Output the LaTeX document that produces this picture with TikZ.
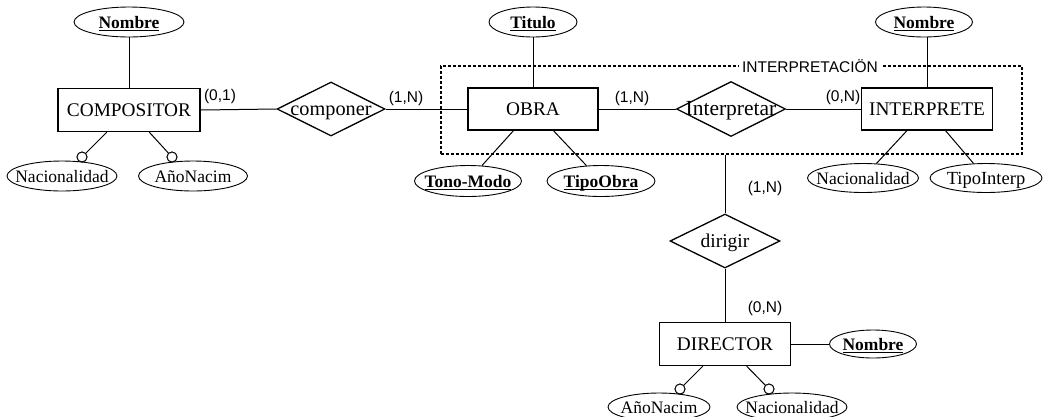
\documentclass[tikz,border=0pt]{standalone}
\usepackage{fontspec}
\setmainfont{Liberation Serif}
\newfontfamily\cardf{Liberation Sans}
\usetikzlibrary{shapes.geometric}
\newcommand{\zw}[1]{\makebox[0pt]{#1}}
\newcommand{\kul}[1]{\setbox0=\hbox{#1}\makebox[0pt]{\rlap{\copy0}\raisebox{-3.4pt}{\rule{\wd0}{1.3pt}}}}
\tikzset{
  entity/.style={rectangle, draw, line width=1.3pt, minimum width=131, minimum height=43, inner sep=0,
                 font=\fontsize{19.3}{21}\selectfont},
  rel/.style={diamond, draw, line width=1.3pt, minimum width=108, minimum height=54, inner sep=0,
              text height=13, text depth=0, font=\fontsize{20.3}{22}\selectfont},
  attr/.style={ellipse, draw, line width=0.9pt, minimum width=110, minimum height=30, inner sep=0,
               text height=12, text depth=0, font=\fontsize{17.5}{19}\selectfont},
  keyattr/.style={attr, font=\fontsize{17.5}{19}\selectfont\bfseries},
  conn/.style={line width=1pt},
  opt/.style={circle, draw, line width=0.9pt, minimum size=10, inner sep=0, fill=white},
  card/.style={font=\cardf\fontsize{15.5}{17}\selectfont, inner sep=0},
  aggbox/.style={rectangle, draw, line width=1.1pt, dash pattern=on 3pt off 2pt, inner sep=0}
}
\begin{document}
\begin{tikzpicture}[x=1pt,y=-1pt]
\fill[white] (0,0) rectangle (1043,416);
\useasboundingbox (0,0) rectangle (1043,416);

% aggregation box
\node[aggbox, minimum width=581, minimum height=88] (agg) at (731.5,110) {};
\node[card, fill=white, inner xsep=3pt, inner ysep=1pt] (agglabel) at (810,66) {INTERPRETACIÖN};

% entities
\node[entity, minimum width=142] (comp) at (129,110) {COMPOSITOR};
\node[entity, minimum width=130, minimum height=42] (obra) at (533,109) {OBRA};
\node[entity, minimum height=42] (interp) at (927,109) {INTERPRETE};
\node[entity] (dir) at (725,344) {DIRECTOR};

% relationships
\node[rel] (compon) at (331,109) {\zw{componer}};
\node[rel, minimum width=109, minimum height=55, font=\fontsize{21.5}{23}\selectfont] (interpr) at (731,109) {\zw{Interpretar}};
\node[rel, minimum width=110, font=\fontsize{19.5}{21}\selectfont] (dirig) at (725,241) {\zw{dirigir}};

% attributes
\node[keyattr] (nom1) at (129,22) {\kul{Nombre}};
\node[keyattr, minimum width=88] (titulo) at (533,22) {\kul{Titulo}};
\node[keyattr, minimum width=97] (nom2) at (924,22) {\kul{Nombre}};
\node[attr] (nac1) at (62,176) {\zw{Nacionalidad}};
\node[attr, minimum width=109] (ano1) at (193,176) {\zw{AñoNacim}};
\node[keyattr, minimum width=107, minimum height=31] (tono) at (468,181) {\kul{Tono-Modo}};
\node[keyattr, minimum width=108, minimum height=31] (tipo) at (601,181) {\kul{TipoObra}};
\node[attr, minimum width=111, minimum height=29] (nac2) at (863,178) {\zw{Nacionalidad}};
\node[attr, minimum width=112, minimum height=29, font=\fontsize{18.5}{20}\selectfont] (tipoi) at (986,178) {\zw{TipoInterp}};
\node[keyattr, minimum width=87, minimum height=28] (nom3) at (873,344) {\kul{Nombre}};
\node[attr, minimum width=102, minimum height=28] (ano2) at (659,407) {\zw{AñoNacim}};
\node[attr, minimum width=110, minimum height=28] (nac3) at (792,407) {\zw{Nacionalidad}};

% optional markers
\node[opt] (c1) at (82,157) {};
\node[opt] (c2) at (172,157) {};
\node[opt] (c3) at (680,389) {};
\node[opt] (c4) at (769,389) {};

% connectors
\draw[conn] (nom1) -- (comp);
\draw[conn] (comp) -- (c1);
\draw[conn] (comp) -- (c2);
\draw[conn] (comp.east) -- (compon.west);
\draw[conn] (compon.east) -- (obra.west);
\draw[conn] (titulo) -- (obra);
\draw[conn] (obra) -- (tono);
\draw[conn] (obra) -- (tipo);
\draw[conn] (obra.east) -- (interpr.west);
\draw[conn] (interpr.east) -- (interp.west);
\draw[conn] (interp.north) -- (interp.north |- nom2.south);
\draw[conn] (interp) -- (nac2);
\draw[conn] (interp) -- (tipoi);
\draw[conn] (dirig.north) -- (dirig.north |- agg.south);
\draw[conn] (dirig.south) -- (dir.north);
\draw[conn] (dir.east) -- (nom3.west);
\draw[conn] (dir) -- (c3);
\draw[conn] (dir) -- (c4);
\node[opt] at (c1) {};
\node[opt] at (c2) {};
\node[opt] at (c3) {};
\node[opt] at (c4) {};

% cardinalities
\node[card] (k1) at (220,96) {(0,1)};
\node[card] (k2) at (406,98) {(1,N)};
\node[card] (k3) at (632,98) {(1,N)};
\node[card] (k4) at (843,97) {(0,N)};
\node[card] (k5) at (765,188) {(1,N)};
\node[card] (k6) at (765,308) {(0,N)};
\end{tikzpicture}
\end{document}
